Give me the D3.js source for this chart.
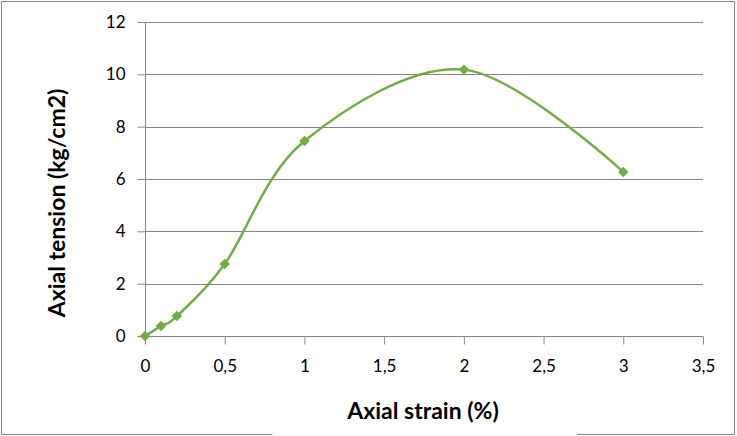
<!DOCTYPE html>
<html lang="en">
<head>
    <meta charset="UTF-8">
    <title>Axial tension vs strain</title>
    <style>
        body { margin: 0; background: #fff; }
        text { font-family: Lato, "Open Sans", sans-serif; }
    </style>
</head>
<body>
    <svg></svg>
    <script src="https://d3js.org/d3.v7.min.js"></script>
    <script>
        var strain = [0, 0.1, 0.2, 0.5, 1, 2, 3];
        var tension = [0, 0.38, 0.76, 2.75, 7.45, 10.18, 6.27];
        var xTicks = [0, 0.5, 1, 1.5, 2, 2.5, 3, 3.5];
        var yTicks = [0, 2, 4, 6, 8, 10, 12];

        var svgWidth = 737, svgHeight = 436;
        var margin = { top: 22, right: 34, bottom: 100, left: 145 };
        var width = svgWidth - margin.left - margin.right;
        var height = svgHeight - margin.top - margin.bottom;
        var green = "#71AD47";
        var gray = "#868686";

        var svg = d3.select("svg")
            .attr("width", svgWidth)
            .attr("height", svgHeight);

        // chart frame, open at the bottom behind the title
        svg.append("path")
            .attr("fill", "none")
            .attr("stroke", gray)
            .attr("stroke-width", 1)
            .attr("d", "M272.5,434.5 H1.5 V1.5 H734.5 V434.5 H577");

        var g = svg.append("g")
            .attr("transform", "translate(" + margin.left + "," + margin.top + ")");

        var x = d3.scaleLinear().domain([0, 3.5]).range([0, width]);
        var y = d3.scaleLinear().domain([0, 12]).range([height, 0]);

        // gridlines
        g.append("g")
            .selectAll("line")
            .data(yTicks.slice(1))
            .enter().append("line")
            .attr("x1", 0)
            .attr("x2", width)
            .attr("y1", function(d) { return Math.round(y(d)) + 0.5; })
            .attr("y2", function(d) { return Math.round(y(d)) + 0.5; })
            .attr("stroke", gray)
            .attr("stroke-width", 1);

        var xAxis = g.append("g")
            .attr("transform", "translate(0," + (height + 0.5) + ")")
            .call(d3.axisBottom(x).tickValues(xTicks).tickSize(8).tickPadding(15)
                .tickFormat(function(d) { return String(d).replace(".", ","); }));
        var yAxis = g.append("g")
            .attr("transform", "translate(0.5,0)")
            .call(d3.axisLeft(y).tickValues(yTicks).tickSize(8).tickPadding(12));

        [xAxis, yAxis].forEach(function(a) {
            a.select(".domain").attr("stroke", gray);
            a.selectAll(".tick line").attr("stroke", gray);
            a.selectAll(".tick text")
                .attr("fill", "#000")
                .style("font-size", "17px");
        });
        xAxis.select(".domain").attr("d", "M0,0H" + width);
        yAxis.select(".domain").attr("d", "M0," + height + "V0");

        var data = strain.map(function(d, i) { return { x: d, y: tension[i] }; });

        var line = d3.line()
            .x(function(d) { return x(d.x); })
            .y(function(d) { return y(d.y); })
            .curve(d3.curveCardinal.tension(0));

        g.append("path")
            .datum(data)
            .attr("fill", "none")
            .attr("stroke", green)
            .attr("stroke-width", 2.5)
            .attr("d", line);

        g.selectAll(".pt")
            .data(data)
            .enter().append("path")
            .attr("class", "pt")
            .attr("transform", function(d) { return "translate(" + x(d.x) + "," + y(d.y) + ")"; })
            .attr("d", d3.symbol().type(d3.symbolDiamond2).size(70))
            .attr("fill", green);

        svg.append("text")
            .attr("x", 423)
            .attr("y", 419)
            .attr("text-anchor", "middle")
            .style("font-size", "23px")
            .style("font-weight", "bold")
            .text("Axial strain (%)");

        svg.append("text")
            .attr("transform", "translate(65,203) rotate(-90)")
            .attr("text-anchor", "middle")
            .style("font-size", "23px")
            .style("font-weight", "bold")
            .text("Axial tension (kg/cm2)");
    </script>
</body>
</html>
